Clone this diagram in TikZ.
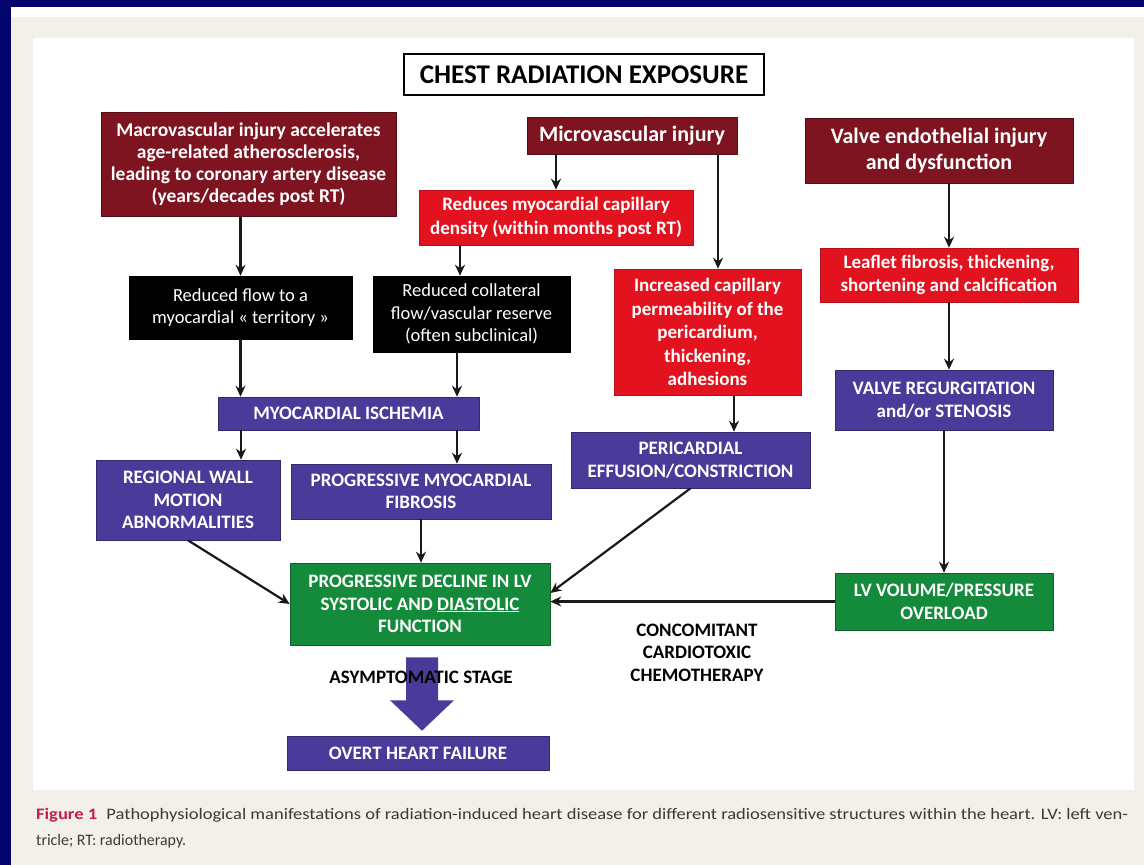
\documentclass[tikz,border=0pt]{standalone}
\usepackage{fontspec}
\setmainfont{Carlito}
\usepackage{graphicx}
\usetikzlibrary{arrows.meta,calc}
\definecolor{navy}{HTML}{03036E}
\definecolor{beige}{HTML}{F2F0E8}
\definecolor{dred}{HTML}{7D1420}
\definecolor{bred}{HTML}{E2131F}
\definecolor{purp}{HTML}{4A3B9A}
\definecolor{grn}{HTML}{138B3A}
\definecolor{figred}{HTML}{C41E4A}
\definecolor{captxt}{HTML}{3A3A3A}
\newcommand\myfs[2]{\fontsize{#1}{#2}\selectfont}
\begin{document}
\begin{tikzpicture}[x=1pt,y=-1pt,
  box/.style={align=center, inner sep=0pt, line width=0.6pt},
  dbox/.style={box, fill=dred, draw=dred!70!black, text=white, font=\bfseries\myfs{19.5}{22}},
  rbox/.style={box, fill=bred, draw=bred!80!black, text=white, font=\bfseries\myfs{19}{23.5}},
  kbox/.style={box, fill=black, draw=black, text=white, font=\myfs{18.5}{22.5}},
  pbox/.style={box, fill=purp, draw=purp!70!black, text=white, font=\bfseries\myfs{19}{22.5}},
  gbox/.style={box, fill=grn, draw=grn!70!black, text=white, font=\bfseries\myfs{19}{22.5}},
  lbl/.style={align=center, inner sep=0pt, text=black, font=\bfseries\myfs{19}{22.5}},
  arr/.style={draw=black!90, line width=2.2pt, -{Stealth[length=11pt,width=10pt]}}]
\useasboundingbox (0,0) rectangle (1144,865);
\fill[navy] (0,0) rectangle (1144,865);
\fill[white] (11,7) rectangle (1144,865);
\fill[beige] (11,17) rectangle (1144,865);
\fill[white] (33,38) rectangle (1134,790);

% title
\node[box, fill=white, draw=black, line width=2.2pt, minimum width=360, minimum height=41,
  font=\bfseries\myfs{27}{30}] (title) at (584,74.5) {CHEST RADIATION EXPOSURE};

% top row
\node[dbox, minimum width=295, minimum height=104] (macro) at (248.5,164)
  {Macrovascular injury accelerates\\age-related atherosclerosis,\\leading to coronary artery disease\\(years/decades post RT)};
\node[dbox, minimum width=210, minimum height=37, font=\bfseries\myfs{22}{26}] (micro) at (632,135.5) {Microvascular injury};
\node[dbox, minimum width=268, minimum height=65, font=\bfseries\myfs{22}{26}] (valve) at (939,150.5) {Valve endothelial injury\\and dysfunction};

% red boxes
\node[rbox, minimum width=274, minimum height=55, font=\bfseries\myfs{19}{24}] (reduces) at (556,217.5) {Reduces myocardial capillary\\density (within months post RT)};
\node[rbox, minimum width=258, minimum height=54, font=\bfseries\myfs{19}{23}] (leaflet) at (949,275) {Leaflet fibrosis, thickening,\\shortening and calcification};
\node[rbox, minimum width=187, minimum height=126] (incr) at (707.5,332) {Increased capillary\\permeability of the\\pericardium,\\thickening,\\adhesions};

% black boxes
\node[kbox, minimum width=223, minimum height=63] (flow) at (240.5,307.5) {Reduced flow to a\\myocardial « territory »};
\node[kbox, minimum width=197, minimum height=76] (coll) at (471.5,314) {Reduced collateral\\flow/vascular reserve\\(often subclinical)};

% purple boxes
\node[pbox, minimum width=261, minimum height=33] (isch) at (348.5,413.5) {MYOCARDIAL ISCHEMIA};
\node[pbox, minimum width=218, minimum height=60] (vreg) at (944,400) {VALVE REGURGITATION\\and/or STENOSIS};
\node[pbox, minimum width=239, minimum height=56, font=\bfseries\myfs{19}{23.5}] (peri) at (690.5,460) {PERICARDIAL\\EFFUSION/CONSTRICTION};
\node[pbox, minimum width=184, minimum height=80] (rwm) at (188,500) {REGIONAL WALL\\MOTION\\ABNORMALITIES};
\node[pbox, minimum width=260, minimum height=55] (fib) at (421,491.5) {PROGRESSIVE MYOCARDIAL\\FIBROSIS};

% green boxes
\node[gbox, minimum width=260, minimum height=82] (decl) at (420,604) {PROGRESSIVE DECLINE IN LV\\SYSTOLIC AND \underline{DIASTOLIC}\\FUNCTION};
\node[gbox, minimum width=218, minimum height=57] (lvv) at (944,601.5) {LV VOLUME/PRESSURE\\OVERLOAD};

% final
\node[pbox, minimum width=262, minimum height=34] (ohf) at (418,753) {OVERT HEART FAILURE};
\node[lbl] (chemo) at (697,652.5) {CONCOMITANT\\CARDIOTOXIC\\CHEMOTHERAPY};

% big arrow
\fill[purp] ($(decl.south)+(-14,12)$) -- ($(decl.south)+(18,12)$) -- ($(decl.south)+(18,55)$)
  -- ($(decl.south)+(34,55)$) -- ($(ohf.north)+(4,-5)$) -- ($(decl.south)+(-30,55)$)
  -- ($(decl.south)+(-14,55)$) -- cycle;
\node[lbl] (asym) at (421,677) {ASYMPTOMATIC STAGE};

% connectors
\draw[arr] (macro.south -| flow.north) -- (flow.north);
\draw[arr] ([xshift=-76pt]micro.south) -- ([xshift=-76pt]micro.south |- reduces.north);
\draw[arr] ([xshift=86pt]micro.south) -- ([xshift=86pt]micro.south |- incr.north);
\draw[arr] (leaflet.north |- valve.south) -- (leaflet.north);
\draw[arr] ([xshift=-96pt]reduces.south) -- ([xshift=-96pt]reduces.south |- coll.north);
\draw[arr] (flow.south) -- (flow.south |- isch.north);
\draw[arr] ([xshift=-14.5pt]coll.south) -- ([xshift=-14.5pt]coll.south |- isch.north);
\draw[arr] ([xshift=26.5pt]incr.south) -- ([xshift=26.5pt]incr.south |- peri.north);
\draw[arr] (leaflet.south) -- (leaflet.south |- vreg.north);
\draw[arr] ([xshift=-107.5pt]isch.south) -- ([xshift=-107.5pt]isch.south |- rwm.north);
\draw[arr] ([xshift=108.5pt]isch.south) -- ([xshift=108.5pt]isch.south |- fib.north);
\draw[arr] (vreg.south) -- (lvv.north);
\draw[arr] (rwm.south) -- (decl.west);
\draw[arr] (fib.south) -- (fib.south |- decl.north);
\draw[arr] (peri.south) -- ($(decl.east)+(0,-11)$);
\draw[arr] (lvv.west) -- (lvv.west -| decl.east);

% caption
\node[anchor=base west, inner sep=0pt, text=captxt, font=\myfs{16}{18}] (cap1) at (36,819)
  {\resizebox{1092pt}{\height}{\textcolor{figred}{\bfseries Figure 1}\enspace Pathophysiological manifestations of radiation-induced heart disease for different radiosensitive structures within the heart. LV: left ven-}};
\node[anchor=base west, inner sep=0pt, text=captxt, font=\myfs{16}{18}] (cap2) at (36,845)
  {\resizebox{150pt}{\height}{tricle; RT: radiotherapy.}};
\end{tikzpicture}
\end{document}
